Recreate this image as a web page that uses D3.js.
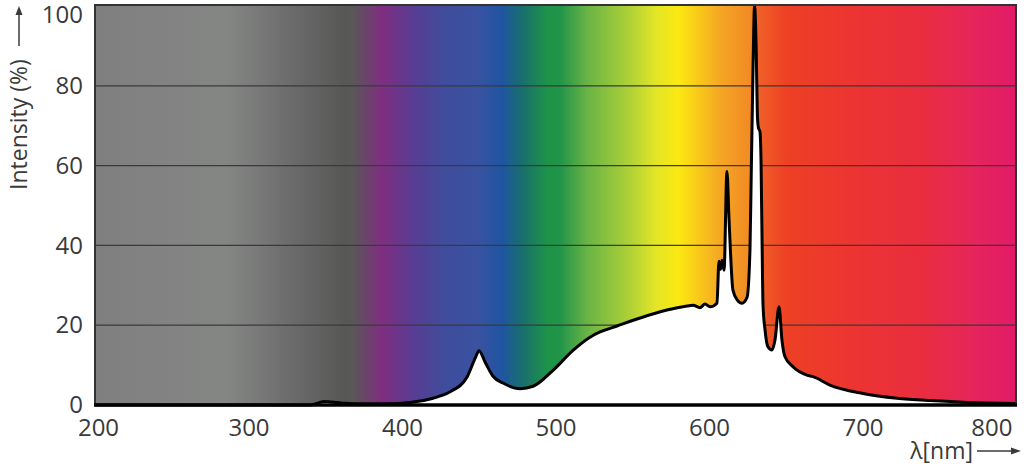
<!DOCTYPE html>
<html>
<head>
<meta charset="utf-8">
<script src="https://cdn.jsdelivr.net/npm/d3@7"></script>
<style>
  body { margin: 0; background: #fff; }
  text { font-family: "Open Sans", sans-serif; fill: #3a3a3a; }
</style>
</head>
<body>
<svg id="chart" width="1024" height="469"></svg>
<script>
// Spectrum: wavelength (nm) and relative intensity (%)
const wavelength = [200, 340, 346, 349, 352, 356, 360, 365, 375, 390, 405.2, 420.2, 431.3, 442.4, 447.6,
  450.2, 454.1, 459.3, 465.8, 476.9, 485.4, 498.4, 511.4, 522.5, 529, 540.1, 555.1, 572.6, 585.7,
  589.6, 594.1, 597.4, 600.7, 605.2, 606.5, 607.5, 608.5, 609.8, 611.7, 613.0, 615.6, 618.5, 621.5,
  624.8, 626.7, 627.4, 628.7, 629.7, 630.7, 631.6, 632.2, 633.2, 633.9, 634.6, 635.2, 636.5, 638.4,
  641.0, 643.0, 645.6, 647.6, 649.5, 654.7, 663.8, 667.8, 678.8, 700.3, 722.5, 744.0, 765.5, 800];
const intensity = [0, 0, 0.6, 0.9, 0.8, 0.7, 0.5, 0.4, 0.3, 0.3, 0.6, 1.7, 3.3, 7, 11.7,
  13.6, 10.8, 7.2, 5.5, 4.1, 4.7, 8.7, 13.7, 17, 18.3, 19.8, 21.8, 23.8, 24.8,
  25, 24.4, 25.3, 24.6, 25.5, 36, 34, 36.3, 33.8, 58.5, 47, 28.8, 26.3, 25.5,
  27, 39, 55, 85, 100, 90, 72, 69.5, 68.5, 61, 40, 25, 18.8, 14.6,
  13.8, 16.3, 24.6, 16, 12.1, 9.6, 7.5, 7.1, 5, 2.9, 1.7, 1.1, 0.7, 0.4];

const xTicks = [200, 300, 400, 500, 600, 700, 800];
const yTicks = [0, 20, 40, 60, 80, 100];
const gridValues = [20, 40, 60, 80];

// background spectrum colours by wavelength
const bandNm = [200, 286, 330, 363, 368, 387, 406, 428, 449, 465, 478, 495, 503, 521, 550, 565, 580, 591, 608, 627, 632, 651, 695, 739, 771, 800];
const bandColor = ['#7f7f7f', '#848684', '#6a6a6a', '#575856', '#5a5758', '#7f2e80', '#5a3c92', '#3f4c9c', '#3a52a0', '#1f55a2', '#186e6e', '#1e9448',
  '#21944a', '#6ab445', '#b3d335', '#e2e526', '#fbe912', '#f9ce18', '#f5a524', '#f28a24', '#f06128', '#ed4024', '#ec3432', '#e92d3f', '#e5265a', '#e21a68'];

const data = wavelength.map((w, i) => ({nm: w, v: intensity[i]}));

const svg = d3.select('#chart');
const plotLeft = 95, plotRight = 1016, plotTop = 6, plotBottom = 405;

const x = d3.scaleLinear().domain([200, 800]).range([plotLeft, plotRight]);
const y = d3.scaleLinear().domain([0, 100]).range([plotBottom, plotTop]);

// gradient
const grad = svg.append('defs').append('linearGradient')
    .attr('id', 'spec')
    .attr('gradientUnits', 'userSpaceOnUse')
    .attr('x1', x(200)).attr('x2', x(800))
    .attr('y1', 0).attr('y2', 0);
grad.selectAll('stop')
    .data(bandNm)
    .join('stop')
    .attr('offset', d => (d - 200) / 600)
    .attr('stop-color', (d, i) => bandColor[i]);

svg.append('rect')
    .attr('x', plotLeft).attr('y', plotTop - 1)
    .attr('width', plotRight - plotLeft).attr('height', plotBottom - plotTop + 1)
    .attr('fill', 'url(#spec)');

// grid lines
svg.append('g')
    .selectAll('line')
    .data(gridValues)
    .join('line')
    .attr('x1', plotLeft).attr('x2', plotRight)
    .attr('y1', d => y(d)).attr('y2', d => y(d))
    .attr('stroke', '#3a3a3a')
    .attr('stroke-width', 1.3);

// white area under the spectrum
const area = d3.area()
    .x(d => x(d.nm))
    .y0(y(0))
    .y1(d => y(d.v))
    .curve(d3.curveMonotoneX);
svg.append('path')
    .datum(data)
    .attr('fill', '#fff')
    .attr('d', area);

const line = d3.line()
    .x(d => x(d.nm))
    .y(d => y(d.v))
    .curve(d3.curveMonotoneX);
svg.append('path')
    .datum(data)
    .attr('fill', 'none')
    .attr('stroke', '#000')
    .attr('stroke-width', 3)
    .attr('stroke-linejoin', 'round')
    .attr('d', line);

// frame
svg.append('rect')
    .attr('x', plotLeft).attr('y', plotTop - 1)
    .attr('width', plotRight - plotLeft).attr('height', plotBottom - plotTop + 1)
    .attr('fill', 'none')
    .attr('stroke', '#333')
    .attr('stroke-width', 2);
svg.append('line')
    .attr('x1', plotLeft - 1).attr('x2', plotRight + 1)
    .attr('y1', plotBottom).attr('y2', plotBottom)
    .attr('stroke', '#000')
    .attr('stroke-width', 3.5);

// x axis
const xAxis = svg.append('g')
    .attr('transform', `translate(0, ${plotBottom})`)
    .call(d3.axisBottom(x).tickValues(xTicks).tickSize(0).tickPadding(14));
xAxis.select('.domain').remove();
xAxis.selectAll('text')
    .style('font-family', '"Open Sans", sans-serif')
    .style('font-size', '24px')
    .attr('fill', '#3a3a3a');
xAxis.selectAll('.tick').filter(d => d === 200).select('text').attr('dx', 3);
xAxis.selectAll('.tick').filter(d => d === 800).select('text')
    .attr('text-anchor', 'end').attr('dx', -4);

// y axis
const yAxis = svg.append('g')
    .attr('transform', `translate(${plotLeft}, 0)`)
    .call(d3.axisLeft(y).tickValues(yTicks).tickSize(0).tickPadding(12));
yAxis.select('.domain').remove();
yAxis.selectAll('text')
    .style('font-family', '"Open Sans", sans-serif')
    .style('font-size', '24px')
    .attr('fill', '#3a3a3a');
yAxis.selectAll('.tick').filter(d => d === 100).select('text').attr('dy', '0.7em');

// axis titles with arrows
svg.append('text')
    .attr('transform', 'translate(19, 190) rotate(-90)')
    .attr('dy', '0.35em')
    .style('font-size', '23px')
    .text('Intensity (%)');
svg.append('line')
    .attr('x1', 19).attr('x2', 19).attr('y1', 46).attr('y2', 13)
    .attr('stroke', '#3a3a3a').attr('stroke-width', 1.5);
svg.append('path')
    .attr('d', 'M19,6 L15.5,15 L22.5,15 Z')
    .attr('fill', '#3a3a3a');

svg.append('text')
    .attr('x', 973).attr('y', 459)
    .attr('text-anchor', 'end')
    .style('font-size', '23px')
    .text('λ[nm]');
svg.append('line')
    .attr('x1', 977).attr('x2', 1013).attr('y1', 451).attr('y2', 451)
    .attr('stroke', '#3a3a3a').attr('stroke-width', 1.5);
svg.append('path')
    .attr('d', 'M1021,451 L1011,447.5 L1011,454.5 Z')
    .attr('fill', '#3a3a3a');
</script>
</body>
</html>
